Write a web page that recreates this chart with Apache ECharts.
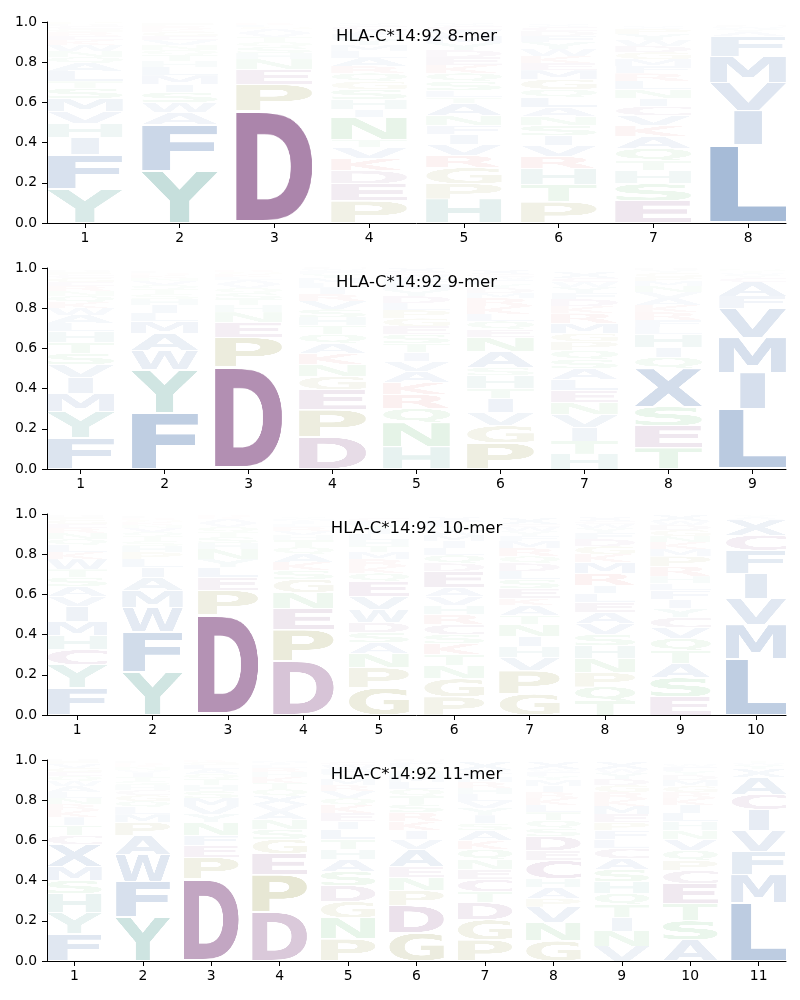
<!DOCTYPE html>
<html><head><meta charset="utf-8">
<script src="https://cdn.jsdelivr.net/npm/echarts@6/dist/echarts.min.js"></script>
<style>html,body{margin:0;padding:0;background:#fff}#chart{width:800px;height:1000px}</style>
</head><body><div id="chart"></div>
<script>
// ---- data: letters listed bottom -> top, heights are probabilities ----
const titles = ["HLA-C*14:92 8-mer", "HLA-C*14:92 9-mer", "HLA-C*14:92 10-mer", "HLA-C*14:92 11-mer"];
const yTicks = [0, 0.2, 0.4, 0.6, 0.8, 1.0];

const positions8 = [1,2,3,4,5,6,7,8];
const letters8 = ["YFIHVMSTLAQNWKERGCDP","YFAWSIMLHTQNVEGKRPD","DPENHSQTVAGLK","PEDKVTNIHSGQRALMYFWCX",
  "HPGRVIFNATLSQKEDYMWCX","PTHRVISNALQGMEKWYFDCX","ESHTQAKVCINLRFMGDWYPX","LIVMFAYWCTKQ"];
const heights8 = [
  [.17,.17,.085,.07,.06,.065,.05,.035,.05,.04,.03,.03,.03,.025,.02,.02,.015,.015,.01,.01],
  [.26,.23,.06,.05,.05,.04,.045,.04,.03,.03,.025,.025,.025,.02,.02,.015,.015,.015,.005],
  [.56,.13,.075,.05,.03,.03,.025,.025,.02,.02,.01,.01,.01],
  [.11,.085,.065,.06,.055,.04,.11,.04,.05,.05,.04,.04,.035,.04,.035,.03,.03,.025,.02,.02,.015],
  [.12,.075,.08,.06,.055,.05,.045,.05,.06,.03,.035,.045,.04,.04,.04,.035,.035,.035,.03,.02,.015],
  [.105,.085,.08,.06,.055,.05,.05,.045,.045,.05,.04,.05,.045,.035,.035,.035,.035,.03,.025,.02,.015],
  [.11,.085,.065,.05,.06,.06,.055,.05,.045,.04,.045,.04,.04,.035,.035,.035,.03,.03,.03,.025,.015],
  [.39,.17,.14,.13,.10,.02,.015,.01,.01,.005,.005,.005]
];

const positions9 = [1,2,3,4,5,6,7,8,9];
const letters9 = ["FYMIVSTHLAWKQNREGCPD","FYWAMLIHSTQVNKREGPC","DPENHTSQVALKGR","DPEGNKAQTHSVRILMYFWC",
  "HNQRKAVITSEGPLDYMFWCX","PGVITHSANEQLKRMDYFWCX","HTIVNELASQPGMRKDFYWCX","TESXQIHLFRKAVNMPGYD","LIMVFACYWTSK"];
const heights9 = [
  [.155,.13,.09,.08,.065,.055,.055,.055,.04,.04,.035,.03,.03,.025,.025,.02,.02,.015,.015,.01],
  [.28,.215,.095,.085,.06,.04,.04,.03,.025,.025,.02,.02,.015,.015,.01,.01,.005,.005,.005],
  [.51,.145,.075,.05,.035,.03,.03,.025,.02,.02,.015,.015,.01,.01],
  [.16,.135,.1,.065,.06,.055,.05,.045,.045,.04,.04,.04,.035,.03,.025,.025,.02,.015,.01,.01],
  [.11,.12,.07,.07,.06,.055,.05,.045,.045,.045,.04,.04,.04,.035,.035,.03,.03,.025,.02,.015,.02],
  [.13,.085,.065,.07,.05,.065,.04,.08,.07,.04,.04,.035,.04,.04,.025,.025,.02,.02,.015,.015,.02],
  [.075,.065,.065,.065,.06,.06,.055,.055,.045,.045,.045,.04,.05,.05,.035,.035,.03,.03,.025,.02,.03],
  [.105,.11,.095,.19,.055,.05,.065,.035,.035,.04,.035,.035,.03,.03,.025,.02,.02,.015,.01],
  [.30,.18,.175,.145,.06,.07,.02,.015,.01,.01,.01,.005]
];

const positions10 = [1,2,3,4,5,6,7,8,9,10];
const letters10 = ["FYCHMIVASTWKLQNREGPD","YFWMAILPHSTQVNKGRECD","DPELYNHSTQVAKRG","DPENGSKAQTHVRLIMYFW",
  "GPNASDWVEQKRMTHLIYFC","PGNTKSCRHVAEDQLIMWYFX","GPVHINTAKESLDQRMFYWCX","TQPNHSVAELIRMKGDFYWCX",
  "ESATQVCYIFLHRPMKNGDWX","LMVIFCXAYW"];
const heights10 = [
  [.135,.115,.075,.07,.07,.075,.05,.05,.045,.04,.05,.035,.035,.03,.03,.025,.02,.02,.015,.01],
  [.215,.2,.12,.085,.065,.05,.04,.035,.03,.025,.025,.02,.02,.015,.015,.01,.01,.01,.005,.005],
  [.5,.12,.065,.05,.04,.05,.03,.03,.025,.025,.02,.02,.01,.01,.005],
  [.27,.155,.105,.08,.065,.045,.04,.04,.035,.035,.025,.02,.02,.015,.015,.01,.01,.005,.005],
  [.135,.1,.07,.055,.05,.05,.065,.065,.075,.04,.035,.035,.035,.03,.03,.03,.025,.02,.02,.015],
  [.09,.09,.065,.055,.055,.045,.05,.05,.045,.045,.045,.08,.04,.04,.035,.035,.03,.025,.025,.02,.02],
  [.105,.115,.065,.055,.05,.06,.045,.05,.035,.05,.045,.04,.04,.035,.04,.035,.025,.025,.02,.015,.03],
  [.07,.07,.07,.07,.065,.055,.055,.055,.05,.045,.04,.06,.055,.04,.04,.035,.03,.025,.02,.015,.02],
  [.09,.095,.07,.065,.06,.055,.05,.045,.045,.045,.035,.035,.05,.05,.035,.035,.03,.03,.025,.02,.03],
  [.28,.17,.13,.125,.115,.075,.075,.015,.01,.005]
];

const positions11 = [1,2,3,4,5,6,7,8,9,10,11];
const letters11 = ["FYHSMXCTIKRNLAWQEGVPD","YFWAPMLQGCHSTIVNKRE","DPEFNYVMSHTQALGK","DPEGSNAVXQTKHRLIMY",
  "PNGDSAHTLIEKQVRMYFWC","GDPNEAVIKRSTQLMHYFWC","PGDTCENQKASIYVLHRMFWX","GNVPAHCEDSQTLKRIMYFWX",
  "VNITQHSACLFPEMKRGDYWX","ASTECPQVNHLIKRGMDYFW","LMFVICAXYWT"];
const heights11 = [
  [.135,.105,.095,.065,.07,.11,.045,.05,.04,.035,.03,.03,.03,.03,.025,.025,.02,.02,.02,.015,.01],
  [.22,.175,.135,.095,.065,.04,.035,.03,.03,.025,.025,.02,.02,.02,.015,.015,.01,.01,.01],
  [.41,.105,.06,.05,.065,.04,.04,.04,.035,.03,.03,.025,.025,.02,.015,.01],
  [.245,.185,.105,.07,.05,.05,.04,.035,.04,.035,.03,.03,.025,.02,.015,.01,.01,.005],
  [.11,.105,.08,.08,.07,.06,.05,.05,.05,.04,.04,.04,.035,.035,.03,.03,.025,.025,.02,.015],
  [.14,.135,.075,.065,.055,.085,.05,.045,.045,.045,.04,.04,.035,.035,.03,.025,.02,.02,.01,.01],
  [.105,.1,.085,.055,.06,.05,.05,.05,.045,.05,.035,.04,.035,.035,.035,.03,.03,.025,.02,.015,.04],
  [.1,.09,.08,.04,.055,.045,.09,.05,.07,.04,.04,.04,.035,.035,.03,.03,.03,.02,.02,.015,.035],
  [.075,.075,.065,.065,.055,.06,.06,.055,.05,.045,.045,.04,.04,.04,.035,.035,.035,.03,.03,.02,.035],
  [.105,.095,.085,.1,.065,.05,.05,.055,.045,.045,.04,.04,.035,.03,.03,.03,.025,.02,.02,.015],
  [.29,.14,.115,.105,.105,.075,.085,.04,.02,.01,.01]
];

// ---- styling ----
const ALPHABET = "ACDEFGHIKLMNPQRSTVWYX";
const GROUP_COLORS = {
  acidic: '#7d427d', hydrophobic: '#3967a6', aromaticPolar: '#41958a',
  special: '#8c8c37', polar: '#46aa50', basic: '#cc5050'
};
const LETTER_GROUP = {D:'acidic',E:'acidic',C:'acidic',A:'hydrophobic',V:'hydrophobic',L:'hydrophobic',I:'hydrophobic',
  M:'hydrophobic',F:'hydrophobic',W:'hydrophobic',X:'hydrophobic',Y:'aromaticPolar',H:'aromaticPolar',
  P:'special',G:'special',S:'polar',T:'polar',N:'polar',Q:'polar',K:'basic',R:'basic'};
const GLYPH_FONT = 'bold 200px "DejaVu Sans"';
const HALF_W = 0.4, VPAD = 0.05;

function makeGlyph(ch, color) {
  const c = document.createElement('canvas');
  let ctx = c.getContext('2d');
  ctx.font = GLYPH_FONT;
  const m = ctx.measureText(ch);
  const l = m.actualBoundingBoxLeft, r = m.actualBoundingBoxRight;
  const a = m.actualBoundingBoxAscent, d = m.actualBoundingBoxDescent;
  c.width = Math.ceil(l + r); c.height = Math.ceil(a + d);
  ctx = c.getContext('2d');
  ctx.font = GLYPH_FONT; ctx.fillStyle = color; ctx.textBaseline = 'alphabetic';
  ctx.fillText(ch, l, a);
  return {canvas: c, inkW: l + r};
}
const GLYPHS = {};
for (const ch of ALPHABET) GLYPHS[ch] = makeGlyph(ch, GROUP_COLORS[LETTER_GROUP[ch]]);
const REF_W = GLYPHS['E'].inkW;
const alphaFor = h => Math.min(0.85, 1.15 * h);

function renderItem(params, api) {
  const x = api.value(0), y0 = api.value(1), y1 = api.value(2), li = api.value(3);
  const g = GLYPHS[ALPHABET[li]];
  const h = y1 - y0, pad = h * VPAD / 2;
  const tl = api.coord([x - HALF_W, y1 - pad]);
  const br = api.coord([x + HALF_W, y0 + pad]);
  const boxW = br[0] - tl[0], boxH = br[1] - tl[1];
  const w = boxW * Math.min(1, g.inkW / REF_W);
  return {type: 'image', style: {image: g.canvas, x: (tl[0] + br[0]) / 2 - w / 2, y: tl[1], width: w, height: boxH, opacity: alphaFor(h)}};
}

function buildData(positions, letters, heights) {
  const out = [];
  positions.forEach((p, i) => {
    let cum = 0;
    for (let k = 0; k < letters[i].length; k++) {
      const h = heights[i][k];
      out.push([p, cum, cum + h, ALPHABET.indexOf(letters[i][k])]);
      cum += h;
    }
  });
  return out;
}

const panels = [
  [positions8, letters8, heights8], [positions9, letters9, heights9],
  [positions10, letters10, heights10], [positions11, letters11, heights11]
];
const tops = [22, 268, 514, 760];
const PLOT_H = 201, LEFT = 47, RIGHT = 14;
const FONT = '"DejaVu Sans", sans-serif';

const option = {
  animation: false,
  backgroundColor: '#fff',
  grid: tops.map(t => ({left: LEFT, right: RIGHT, top: t, height: PLOT_H})),
  xAxis: panels.map((pn, i) => ({
    type: 'value', gridIndex: i, min: 0.6, max: pn[0].length + 0.4,
    splitLine: {show: false},
    axisLine: {show: true, lineStyle: {color: '#000', width: 1}},
    axisTick: {show: true, length: 5, lineStyle: {color: '#000', width: 1}, customValues: pn[0]},
    axisLabel: {color: '#000', fontSize: 13.9, fontFamily: FONT, margin: 8, customValues: pn[0], formatter: v => String(v)}
  })),
  yAxis: panels.map((pn, i) => ({
    type: 'value', gridIndex: i, min: 0, max: 1, interval: 0.2,
    splitLine: {show: false},
    axisLine: {show: true, lineStyle: {color: '#000', width: 1}},
    axisTick: {show: true, length: 5, lineStyle: {color: '#000', width: 1}},
    axisLabel: {color: '#000', fontSize: 13.9, fontFamily: FONT, margin: 10, formatter: v => v.toFixed(1)}
  })),
  graphic: titles.map((t, i) => ({
    type: 'text', x: LEFT + (800 - LEFT - RIGHT) / 2, y: tops[i] + 15,
    style: {text: t, font: '16.5px ' + FONT, fill: '#000', textAlign: 'center', textVerticalAlign: 'middle'}
  })),
  series: panels.map((pn, i) => ({
    type: 'custom', xAxisIndex: i, yAxisIndex: i,
    renderItem: renderItem,
    encode: {x: 0, y: [1, 2]},
    data: buildData(pn[0], pn[1], pn[2])
  }))
};
const chart = echarts.init(document.getElementById('chart'), null, {renderer: 'canvas'});
chart.setOption(option);
</script></body></html>
